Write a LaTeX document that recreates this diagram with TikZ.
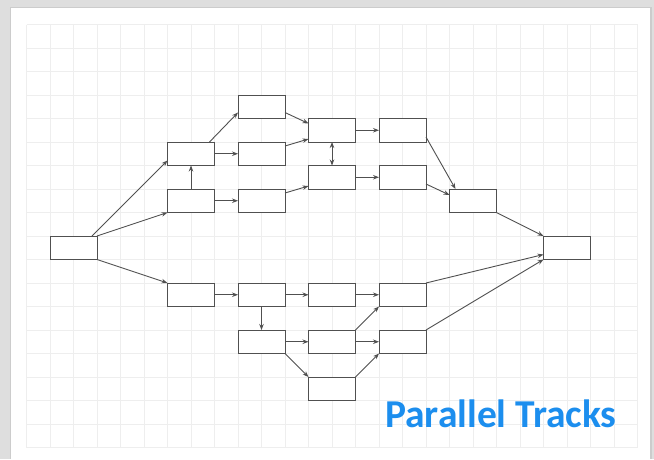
\documentclass[tikz,border=0pt]{standalone}
\usepackage{fontspec}
\newfontfamily\titlefont{Carlito}
\usetikzlibrary{arrows.meta}
\definecolor{bggray}{RGB}{222,222,222}
\definecolor{gridgray}{RGB}{238,238,238}
\definecolor{edgegray}{RGB}{80,80,80}
\definecolor{titleblue}{RGB}{28,142,238}
\tikzset{
  box/.style={draw=edgegray, line width=1pt, fill=white, minimum width=47pt, minimum height=23.5pt, inner sep=0pt, outer sep=0pt},
  conn/.style={draw=edgegray, line width=0.9pt, -{Stealth[length=6pt,width=4.5pt]}},
  dconn/.style={draw=edgegray, line width=0.9pt, {Stealth[length=6pt,width=4.5pt]}-{Stealth[length=6pt,width=4.5pt]}},
}
\begin{document}
\begin{tikzpicture}[x=1pt,y=-1pt]
\useasboundingbox (0,0) rectangle (654,459);
% slide background
\fill[bggray] (0,0) rectangle (654,459);
\fill[gray!40] (9.5,7) rectangle (652,459);
\fill[white] (11,8) rectangle (650,459);
% grid
\foreach \i in {0,...,26} {
  \draw[gridgray, line width=0.7pt] (26.5+23.5*\i,24.5) -- (26.5+23.5*\i,447.5);
}
\foreach \j in {0,...,18} {
  \draw[gridgray, line width=0.7pt] (26.5,24.5+23.5*\j) -- (637.5,24.5+23.5*\j);
}
\begin{scope}[shift={(50,236)}, x=23.5pt, y=-23.5pt]
  \node[box] (S)  at (1,0.5)   {};
  \node[box] (A1) at (6,-3.5)  {};
  \node[box] (A2) at (6,-1.5)  {};
  \node[box] (B0) at (9,-5.5)  {};
  \node[box] (B1) at (9,-3.5)  {};
  \node[box] (B2) at (9,-1.5)  {};
  \node[box] (C1) at (12,-4.5) {};
  \node[box] (C2) at (12,-2.5) {};
  \node[box] (D1) at (15,-4.5) {};
  \node[box] (D2) at (15,-2.5) {};
  \node[box] (E)  at (18,-1.5) {};
  \node[box] (F)  at (22,0.5)  {};
  \node[box] (L1) at (6,2.5)   {};
  \node[box] (L2) at (9,2.5)   {};
  \node[box] (L3) at (12,2.5)  {};
  \node[box] (L4) at (15,2.5)  {};
  \node[box] (M1) at (9,4.5)   {};
  \node[box] (M2) at (12,4.5)  {};
  \node[box] (M3) at (15,4.5)  {};
  \node[box] (N)  at (12,6.5)  {};
  % upper tracks
  \draw[conn] ([xshift=-5pt]S.north east) -- ([yshift=5pt]A1.south west);
  \draw[conn] (S.north east) -- (A2.south west);
  \draw[conn] (A2.north) -- (A1.south);
  \draw[conn] ([xshift=-5pt]A1.north east) -- ([yshift=6pt]B0.south west);
  \draw[conn] (A1.east) -- (B1.west);
  \draw[conn] (A2.east) -- (B2.west);
  \draw[conn] ([yshift=6pt]B0.south east) -- ([yshift=-5pt]C1.north west);
  \draw[conn] ([yshift=-4pt]B1.north east) -- ([yshift=3pt]C1.south west);
  \draw[conn] ([yshift=-4pt]B2.north east) -- ([yshift=3pt]C2.south west);
  \draw[dconn] (C1.south) -- (C2.north);
  \draw[conn] (C1.east) -- (D1.west);
  \draw[conn] (C2.east) -- (D2.west);
  \draw[conn] ([yshift=5pt]D1.south east) -- ([xshift=6pt]E.north west);
  \draw[conn] ([yshift=5pt]D2.south east) -- ([yshift=-6pt]E.north west);
  \draw[conn] (E.south east) -- (F.north west);
  % lower tracks
  \draw[conn] (S.south east) -- (L1.north west);
  \draw[conn] (L1.east) -- (L2.west);
  \draw[conn] (L2.east) -- (L3.west);
  \draw[conn] (L3.east) -- (L4.west);
  \draw[conn] (L2.south) -- (M1.north);
  \draw[conn] (M1.east) -- (M2.west);
  \draw[conn] (M2.east) -- (M3.west);
  \draw[conn] (M1.south east) -- (N.north west);
  \draw[conn] (M2.north east) -- (L4.south west);
  \draw[conn] (N.north east) -- (M3.south west);
  \draw[conn] (L4.north east) -- ([yshift=5pt]F.south west);
  \draw[conn] (M3.north east) -- (F.south west);
\end{scope}
\node[anchor=base west, inner sep=0pt, text=titleblue, font=\titlefont\bfseries\fontsize{39.5}{42}\selectfont] (T) at (385,427) {Parallel Tracks};
\end{tikzpicture}
\end{document}
